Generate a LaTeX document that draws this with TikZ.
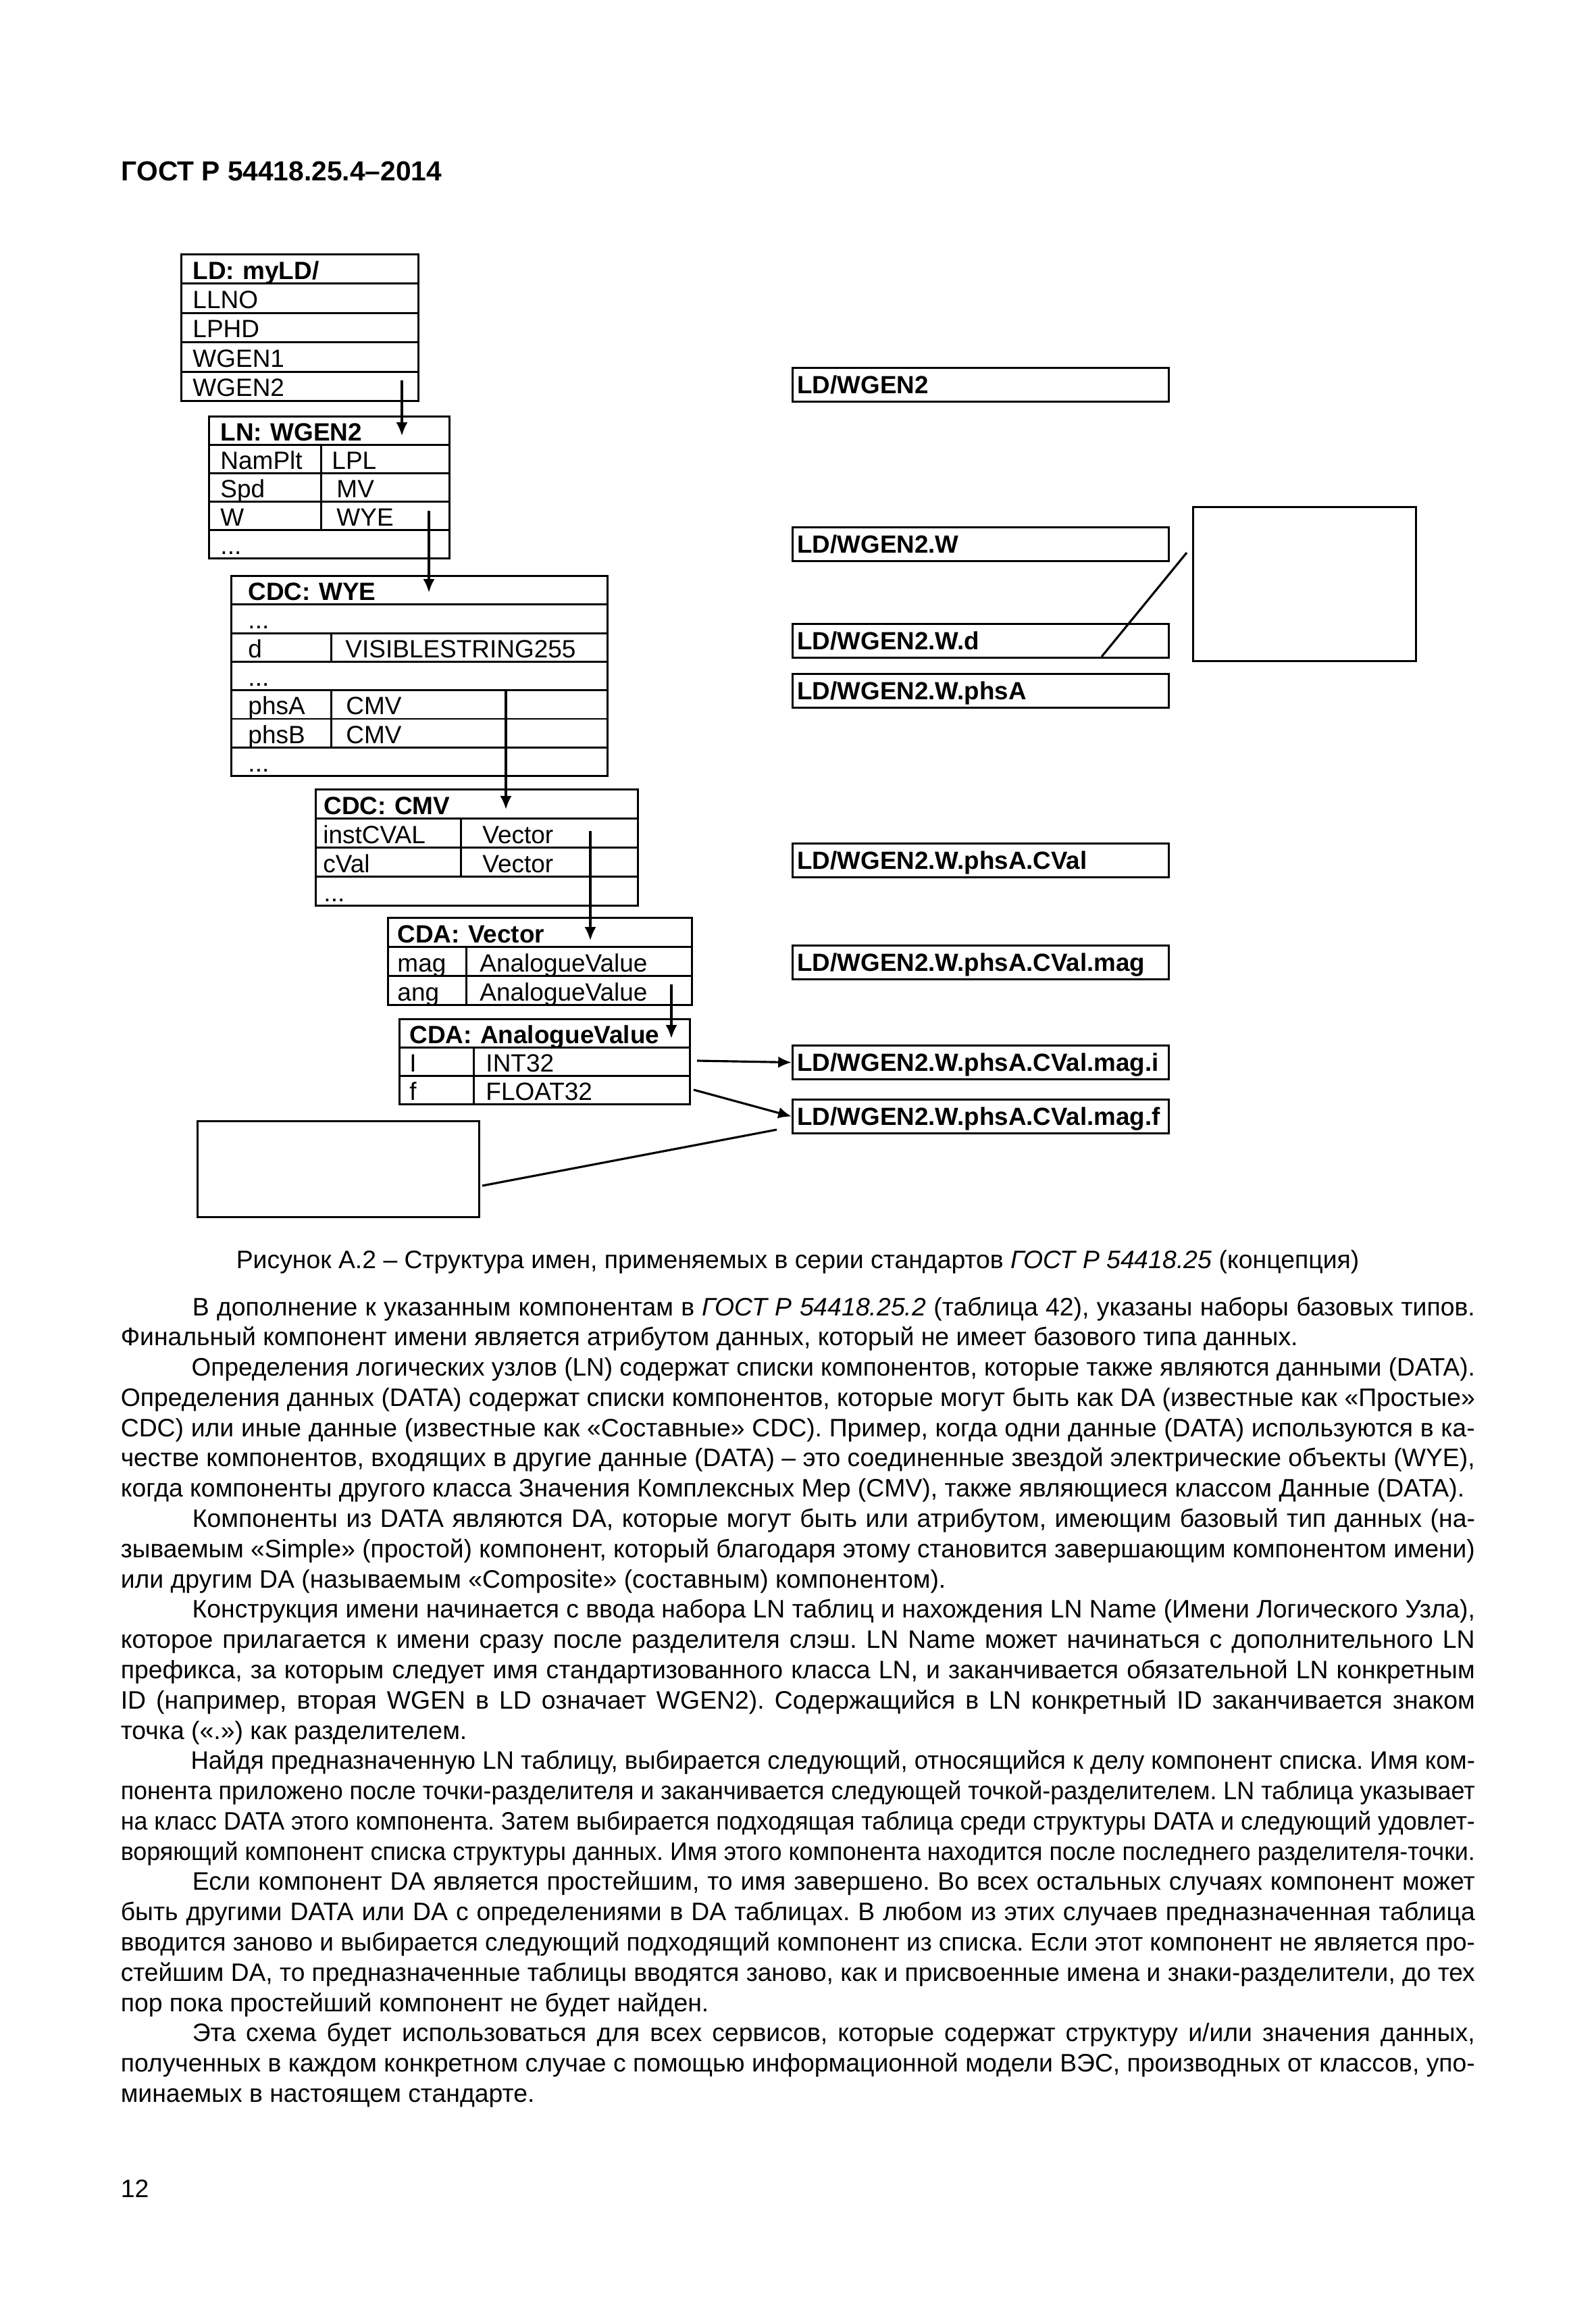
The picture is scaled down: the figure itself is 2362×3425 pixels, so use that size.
\documentclass[tikz,border=0pt]{standalone}
\usepackage{fontspec}
\setmainfont{Liberation Sans}
\usetikzlibrary{arrows.meta}

\newlength\pxl
\setlength\pxl{0.088908mm}
\newsavebox\linebox
\newcommand\tabfont{\fontsize{9.35}{11}\selectfont}
\newcommand\pathfont{\fontsize{9.3}{11}\selectfont\bfseries}
\newcommand\bodyfont{\fontsize{9.45}{11.33}\selectfont}
\newcommand\fullline[1]{\sbox\linebox{#1}%
  \ifdim\wd\linebox>\linewidth
    \hbox to\linewidth{\strut\resizebox{\linewidth}{\height}{\usebox\linebox}}%
  \else
    \hbox to\linewidth{\strut#1}%
  \fi}
\newcommand\lastline[1]{\hbox to\linewidth{\strut#1\hfil}}
\newcommand\firstind{\hspace*{106\pxl}}

\tikzset{
  cell/.style={draw, line width=0.75pt, anchor=north west, inner sep=0pt,
    align=left, font=\tabfont, text height=7.6pt, text depth=0pt},
  pathbox/.style={draw, line width=0.75pt, anchor=north west, inner sep=0pt,
    text width=557\pxl, minimum height=50\pxl, align=left, font=\pathfont,
    text height=6.7pt, text depth=0pt},
  blank/.style={draw, line width=0.75pt, anchor=north west, inner sep=0pt},
  link/.style={-{Latex[length=5pt,width=4.3pt]}, line width=0.8pt},
  guide/.style={line width=0.8pt},
}

\begin{document}
\begin{tikzpicture}[x=0.088908mm, y=-0.088908mm]

    % Page
    \path[fill=white] (0,0) rectangle (2362,3425);
    \node[anchor=base west, inner sep=0pt, font=\fontsize{10.3}{12}\selectfont\bfseries]
      (hdr) at (179,268) {ГОСТ Р 54418.25.4–2014};

    % LD table
    \node[cell, text width=351\pxl, minimum height=43.4\pxl] (ld0) at (267,375)
      {\hspace*{17\pxl}\textbf{LD: myLD/}};
    \foreach \i/\t in {1/LLNO,2/LPHD,3/WGEN1,4/WGEN2}
      \node[cell, text width=351\pxl, minimum height=43.4\pxl] (ld\i) at (267,{375+43.4*\i})
        {\hspace*{17\pxl}\t};

    % LN table
    \node[cell, text width=356\pxl, minimum height=42\pxl] (ln0) at (308,615)
      {\hspace*{17\pxl}\textbf{LN: WGEN2}};
    \node[cell, text width=166\pxl, minimum height=42\pxl] (ln1a) at (308,657) {\hspace*{17\pxl}NamPlt};
    \node[cell, text width=190\pxl, minimum height=42\pxl] (ln1b) at (474,657) {\hspace*{16\pxl}LPL};
    \node[cell, text width=166\pxl, minimum height=42\pxl] (ln2a) at (308,699) {\hspace*{17\pxl}Spd};
    \node[cell, text width=190\pxl, minimum height=42\pxl] (ln2b) at (474,699) {\hspace*{23\pxl}MV};
    \node[cell, text width=166\pxl, minimum height=42\pxl] (ln3a) at (308,741) {\hspace*{17\pxl}W};
    \node[cell, text width=190\pxl, minimum height=42\pxl] (ln3b) at (474,741) {\hspace*{23\pxl}WYE};
    \node[cell, text width=356\pxl, minimum height=42\pxl] (ln4) at (308,783) {\hspace*{17\pxl}...};

    % CDC WYE table
    \node[cell, text width=557\pxl, minimum height=42.3\pxl] (wye0) at (341,851)
      {\hspace*{25\pxl}\textbf{CDC: WYE}};
    \node[cell, text width=557\pxl, minimum height=42.3\pxl] (wye1) at (341,893.3) {\hspace*{25\pxl}...};
    \node[cell, text width=148\pxl, minimum height=42.3\pxl] (wye2a) at (341,935.6) {\hspace*{25\pxl}d};
    \node[cell, text width=409\pxl, minimum height=42.3\pxl] (wye2b) at (489,935.6) {\hspace*{21\pxl}VISIBLESTRING255};
    \node[cell, text width=557\pxl, minimum height=42.3\pxl] (wye3) at (341,977.9) {\hspace*{25\pxl}...};
    \node[cell, text width=148\pxl, minimum height=42.3\pxl] (wye4a) at (341,1020.2) {\hspace*{25\pxl}phsA};
    \node[cell, text width=409\pxl, minimum height=42.3\pxl] (wye4b) at (489,1020.2) {\hspace*{22\pxl}CMV};
    \node[cell, text width=148\pxl, minimum height=42.3\pxl] (wye5a) at (341,1062.5) {\hspace*{25\pxl}phsB};
    \node[cell, text width=409\pxl, minimum height=42.3\pxl] (wye5b) at (489,1062.5) {\hspace*{22\pxl}CMV};
    \node[cell, text width=557\pxl, minimum height=42.3\pxl] (wye6) at (341,1104.8) {\hspace*{25\pxl}...};

    % CDC CMV table
    \node[cell, text width=477\pxl, minimum height=43\pxl] (cmv0) at (466,1167)
      {\hspace*{12\pxl}\textbf{CDC: CMV}};
    \node[cell, text width=215\pxl, minimum height=43\pxl] (cmv1a) at (466,1210) {\hspace*{11\pxl}instCVAL};
    \node[cell, text width=262\pxl, minimum height=43\pxl] (cmv1b) at (681,1210) {\hspace*{32\pxl}Vector};
    \node[cell, text width=215\pxl, minimum height=43\pxl] (cmv2a) at (466,1253) {\hspace*{11\pxl}cVal};
    \node[cell, text width=262\pxl, minimum height=43\pxl] (cmv2b) at (681,1253) {\hspace*{32\pxl}Vector};
    \node[cell, text width=477\pxl, minimum height=43\pxl] (cmv3) at (466,1296) {\hspace*{12\pxl}...};

    % CDA Vector table
    \node[cell, text width=450\pxl, minimum height=43\pxl] (vec0) at (573,1357)
      {\hspace*{14\pxl}\textbf{CDA: Vector}};
    \node[cell, text width=116\pxl, minimum height=43\pxl] (vec1a) at (573,1400) {\hspace*{14\pxl}mag};
    \node[cell, text width=334\pxl, minimum height=43\pxl] (vec1b) at (689,1400) {\hspace*{20\pxl}AnalogueValue};
    \node[cell, text width=116\pxl, minimum height=43\pxl] (vec2a) at (573,1443) {\hspace*{14\pxl}ang};
    \node[cell, text width=334\pxl, minimum height=43\pxl] (vec2b) at (689,1443) {\hspace*{20\pxl}AnalogueValue};

    % CDA AnalogueValue table
    \node[cell, text width=430\pxl, minimum height=42\pxl] (av0) at (590,1507)
      {\hspace*{15\pxl}\textbf{CDA: AnalogueValue}};
    \node[cell, text width=110\pxl, minimum height=42\pxl] (av1a) at (590,1549) {\hspace*{15\pxl}I};
    \node[cell, text width=320\pxl, minimum height=42\pxl] (av1b) at (700,1549) {\hspace*{18\pxl}INT32};
    \node[cell, text width=110\pxl, minimum height=42\pxl] (av2a) at (590,1591) {\hspace*{15\pxl}f};
    \node[cell, text width=320\pxl, minimum height=42\pxl] (av2b) at (700,1591) {\hspace*{18\pxl}FLOAT32};

    % Resulting names
    \node[pathbox] (p1) at (1172,543) {\hspace*{7\pxl}LD/WGEN2};
    \node[pathbox] (p2) at (1172,779) {\hspace*{7\pxl}LD/WGEN2.W};
    \node[pathbox] (p3) at (1172,922) {\hspace*{7\pxl}LD/WGEN2.W.d};
    \node[pathbox] (p4) at (1172,996) {\hspace*{7\pxl}LD/WGEN2.W.phsA};
    \node[pathbox] (p5) at (1172,1247) {\hspace*{7\pxl}LD/WGEN2.W.phsA.CVal};
    \node[pathbox] (p6) at (1172,1398) {\hspace*{7\pxl}LD/WGEN2.W.phsA.CVal.mag};
    \node[pathbox] (p7) at (1172,1546) {\hspace*{7\pxl}LD/WGEN2.W.phsA.CVal.mag.i};
    \node[pathbox] (p8) at (1172,1626) {\hspace*{7\pxl}LD/WGEN2.W.phsA.CVal.mag.f};

    % Empty boxes
    \node[blank, minimum width=330\pxl, minimum height=228\pxl] (noteR) at (1765,749) {};
    \node[blank, minimum width=417\pxl, minimum height=142\pxl] (noteL) at (291,1658) {};

    % Arrow end points
    \coordinate (a1s) at (595,563);   \coordinate (a1e) at (595,645);
    \coordinate (a2s) at (635,756);   \coordinate (a2e) at (635,877);
    \coordinate (a3s) at (749,1021);  \coordinate (a3e) at (749,1198);
    \coordinate (a4s) at (874,1230);  \coordinate (a4e) at (874,1392);
    \coordinate (a5s) at (994,1457);  \coordinate (a5e) at (994,1537);
    \coordinate (iS) at (1032,1570);
    \coordinate (fS) at (1027,1613);
    \coordinate (rS) at (1757,818);   \coordinate (rE) at (1631,972);
    \coordinate (lS) at (714,1755);   \coordinate (lE) at (1150,1672);

    % Arrows between tables
    \draw[link] (a1s) -- (a1e);
    \draw[link] (a2s) -- (a2e);
    \draw[link] (a3s) -- (a3e);
    \draw[link] (a4s) -- (a4e);
    \draw[link] (a5s) -- (a5e);
    \draw[link] (iS) -- (p7.west);
    \draw[link] (fS) -- (p8.west);

    % Pointer lines
    \draw[guide] (rS) -- (rE);
    \draw[guide] (lS) -- (lE);

    % Caption
    \node[anchor=base, inner sep=0pt, font=\bodyfont] (cap) at (1181,1877)
      {Рисунок А.2 – Структура имен, применяемых в серии стандартов \textit{ГОСТ Р 54418.25} (концепция)};

    % Body text
    \node[anchor=base west, inner sep=0pt] (body) at (178,1947) {\begin{minipage}[t]{2005\pxl}\bodyfont
\frenchspacing
\fullline{\firstind В дополнение к указанным компонентам в \textit{ГОСТ Р 54418.25.2} (таблица 42), указаны наборы базовых типов.}
\lastline{Финальный компонент имени является атрибутом данных, который не имеет базового типа данных.}
\fullline{\firstind Определения логических узлов (LN) содержат списки компонентов, которые также являются данными (DATA).}
\fullline{Определения данных (DATA) содержат списки компонентов, которые могут быть как DA (известные как «Простые»}
\fullline{CDC) или иные данные (известные как «Составные» CDC). Пример, когда одни данные (DATA) используются в ка-}
\fullline{честве компонентов, входящих в другие данные (DATA) – это соединенные звездой электрические объекты (WYE),}
\lastline{когда компоненты другого класса Значения Комплексных Мер (CMV), также являющиеся классом Данные (DATA).}
\fullline{\firstind Компоненты из DATA являются DA, которые могут быть или атрибутом, имеющим базовый тип данных (на-}
\fullline{зываемым «Simple» (простой) компонент, который благодаря этому становится завершающим компонентом имени)}
\lastline{или другим DA (называемым «Composite» (составным) компонентом).}
\fullline{\firstind Конструкция имени начинается с ввода набора LN таблиц и нахождения LN Name (Имени Логического Узла),}
\fullline{которое прилагается к имени сразу после разделителя слэш. LN Name может начинаться с дополнительного LN}
\fullline{префикса, за которым следует имя стандартизованного класса LN, и заканчивается обязательной LN конкретным}
\fullline{ID (например, вторая WGEN в LD означает WGEN2). Содержащийся в LN конкретный ID заканчивается знаком}
\lastline{точка («.») как разделителем.}
\fullline{\firstind Найдя предназначенную LN таблицу, выбирается следующий, относящийся к делу компонент списка. Имя ком-}
\fullline{понента приложено после точки-разделителя и заканчивается следующей точкой-разделителем. LN таблица указывает}
\fullline{на класс DATA этого компонента. Затем выбирается подходящая таблица среди структуры DATA и следующий удовлет-}
\fullline{воряющий компонент списка структуры данных. Имя этого компонента находится после последнего разделителя-точки.}
\fullline{\firstind Если компонент DA является простейшим, то имя завершено. Во всех остальных случаях компонент может}
\fullline{быть другими DATA или DA с определениями в DA таблицах. В любом из этих случаев предназначенная таблица}
\fullline{вводится заново и выбирается следующий подходящий компонент из списка. Если этот компонент не является про-}
\fullline{стейшим DA, то предназначенные таблицы вводятся заново, как и присвоенные имена и знаки-разделители, до тех}
\lastline{пор пока простейший компонент не будет найден.}
\fullline{\firstind Эта схема будет использоваться для всех сервисов, которые содержат структуру и/или значения данных,}
\fullline{полученных в каждом конкретном случае с помощью информационной модели ВЭС, производных от классов, упо-}
\lastline{минаемых в настоящем стандарте.}
\end{minipage}};

    % Page number
    \node[anchor=base west, inner sep=0pt, font=\bodyfont] (pgnum) at (178,3252) {12};

\end{tikzpicture}
\end{document}
